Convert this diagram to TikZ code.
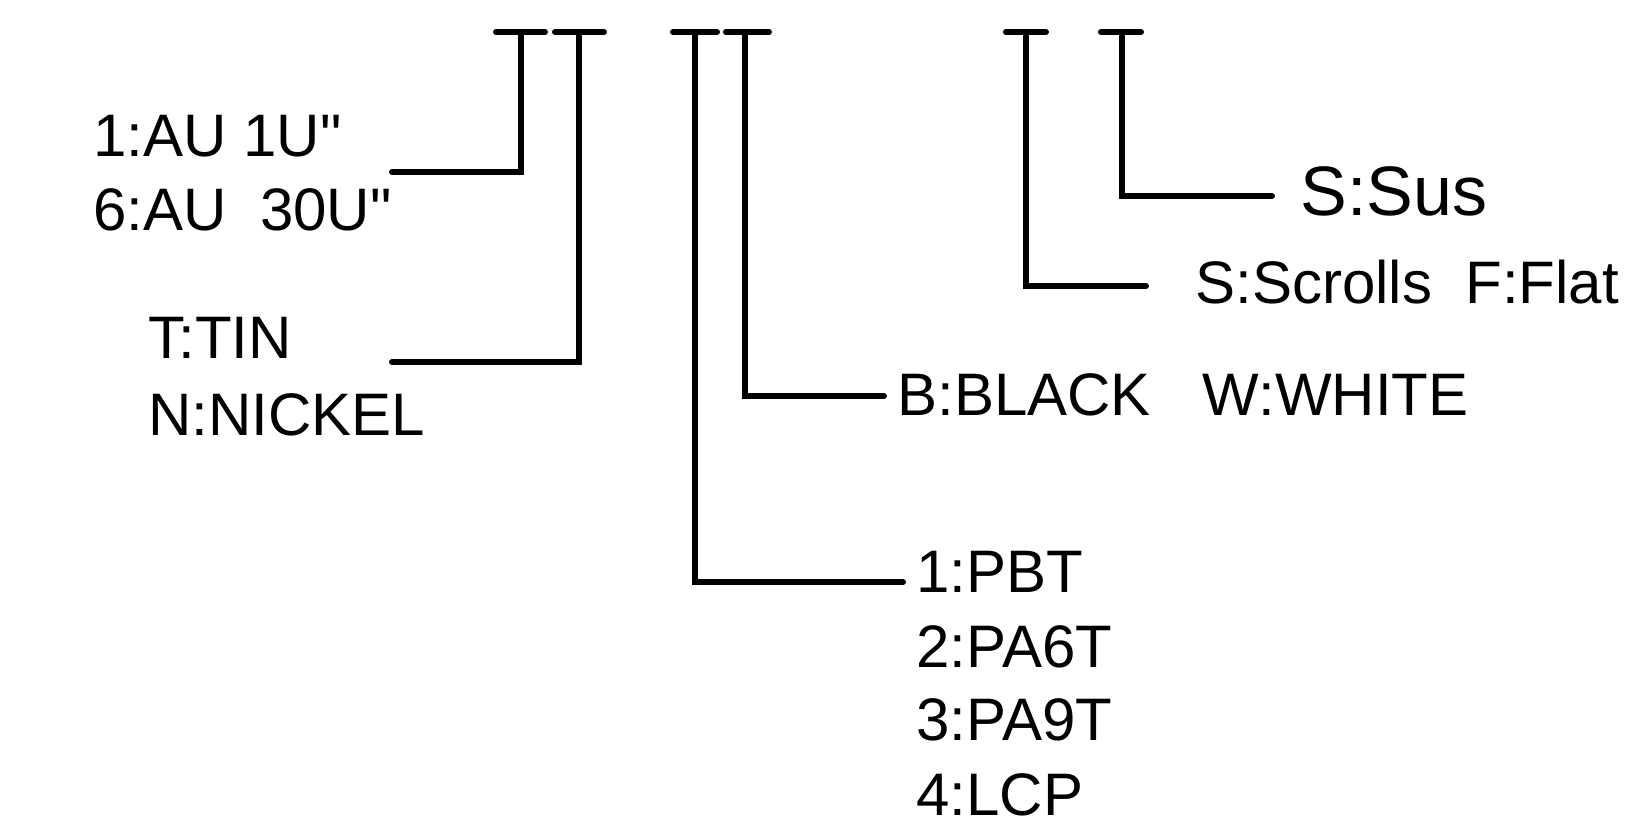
\documentclass[tikz,border=0pt]{standalone}
\usepackage{fontspec}
\newfontfamily\lib{Liberation Sans}
\begin{document}
\begin{tikzpicture}[x=0.5pt,y=-0.5pt,
  conn/.style={line width=3pt,line cap=round,line join=miter},
  lbl/.style={inner sep=0pt,anchor=base west,font=\lib\fontsize{30}{36}\selectfont},
  biglbl/.style={lbl,font=\lib\fontsize{35}{42}\selectfont}]
\useasboundingbox (0,0) rectangle (1637,827);

% labels
\node[lbl] (au1) at (93,156) {1:AU 1U"};
\node[lbl] (au6) at (93,230) {6:AU\ \ 30U"};
\node[lbl] (tin) at (148,358) {T:TIN};
\node[lbl] (nickel) at (148,435) {N:NICKEL};
\node[lbl] (colour) at (897,415) {B:BLACK\hspace{26pt}W:WHITE};
\node[lbl] (pbt) at (916,592) {1:PBT};
\node[lbl] (pa6t) at (916,667) {2:PA6T};
\node[lbl] (pa9t) at (916,740) {3:PA9T};
\node[lbl] (lcp) at (916,815) {4:LCP};
\node[lbl] (scrolls) at (1195,303) {S:Scrolls\ \ F:Flat};
\node[biglbl] (sus) at (1300,215) {S:Sus};

% tops of the T bars
\coordinate (t1) at (521,32); \coordinate (t1l) at (496,32); \coordinate (t1r) at (545,32);
\coordinate (t2) at (579,32); \coordinate (t2l) at (555,32); \coordinate (t2r) at (604,32);
\coordinate (t3) at (695,32); \coordinate (t3l) at (673,32); \coordinate (t3r) at (717,32);
\coordinate (t4) at (745,32); \coordinate (t4l) at (726,32); \coordinate (t4r) at (769,32);
\coordinate (t5) at (1026,32); \coordinate (t5l) at (1006,32); \coordinate (t5r) at (1046,32);
\coordinate (t6) at (1122,32); \coordinate (t6l) at (1101,32); \coordinate (t6r) at (1141,32);

% ends of the connectors at the labels
\coordinate (e1) at (392,172);
\coordinate (e2) at (392,362);
\coordinate (e3) at (903,582);
\coordinate (e4) at (884,396);
\coordinate (e5) at (1146,286);
\coordinate (e6) at (1272,196);

\foreach \i in {1,...,6}{
  \draw[conn] (t\i l) -- (t\i r);
  \draw[conn] (t\i) |- (e\i);
}
\end{tikzpicture}
\end{document}
